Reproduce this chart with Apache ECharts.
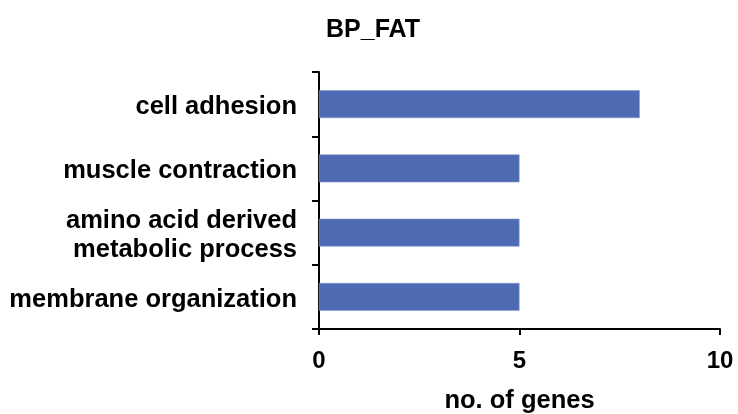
<!DOCTYPE html>
<html>
<head>
<meta charset="utf-8">
<script src="https://cdn.jsdelivr.net/npm/echarts@6/dist/echarts.min.js"></script>
<style>
  html, body { margin: 0; padding: 0; background: #fff; }
  #chart { width: 738px; height: 414px; }
</style>
</head>
<body>
<div id="chart"></div>
<script>
// GO biological process terms (top to bottom) and gene counts
const categories = [
  'cell adhesion',
  'muscle contraction',
  'amino acid derived\nmetabolic process',
  'membrane organization'
];
const geneCounts = [8, 5, 5, 5];
const xTicks = [0, 5, 10];

const FONT = '"Liberation Sans", Arial, Helvetica, sans-serif';
const chart = echarts.init(document.getElementById('chart'));

chart.setOption({
  animation: false,
  backgroundColor: '#ffffff',
  title: {
    text: 'BP_FAT',
    left: 321,
    top: 13,
    textStyle: { fontFamily: FONT, fontWeight: 'bold', fontSize: 25, color: '#000' }
  },
  grid: {
    left: 319, right: 18, top: 72, bottom: 85,
    containLabel: false,
    outerBoundsMode: 'none'
  },
  xAxis: {
    type: 'value',
    min: xTicks[0],
    max: xTicks[xTicks.length - 1],
    interval: xTicks[1] - xTicks[0],
    name: 'no. of genes',
    nameLocation: 'middle',
    nameGap: 59,
    nameTextStyle: { fontFamily: FONT, fontWeight: 'bold', fontSize: 25.5, color: '#000' },
    axisLine: { show: true, lineStyle: { color: '#000', width: 2 } },
    axisTick: { show: true, length: 6, lineStyle: { color: '#000', width: 2 } },
    axisLabel: { margin: 20, fontFamily: FONT, fontWeight: 'bold', fontSize: 24, color: '#000' },
    splitLine: { show: false }
  },
  yAxis: {
    type: 'category',
    data: categories,
    inverse: true,
    axisLine: { show: true, lineStyle: { color: '#000', width: 2 } },
    axisTick: { show: true, length: 7, lineStyle: { color: '#000', width: 2 } },
    axisLabel: {
      margin: 22,
      align: 'right',
      // each line as a rich token so it can sit slightly below the tick centre
      formatter: (v) => v.split('\n').map((s) => '{t|' + s + '}').join('\n'),
      rich: {
        t: {
          fontFamily: FONT,
          fontWeight: 'bold',
          fontSize: 25.5,
          lineHeight: 29,
          padding: [6, 0, 0, 0],
          color: '#000'
        }
      }
    }
  },
  series: [{
    type: 'bar',
    data: geneCounts,
    barWidth: 28,
    itemStyle: { color: '#4e6ab2', borderColor: '#8da0cf', borderWidth: 0.6 }
  }]
});
</script>
</body>
</html>
